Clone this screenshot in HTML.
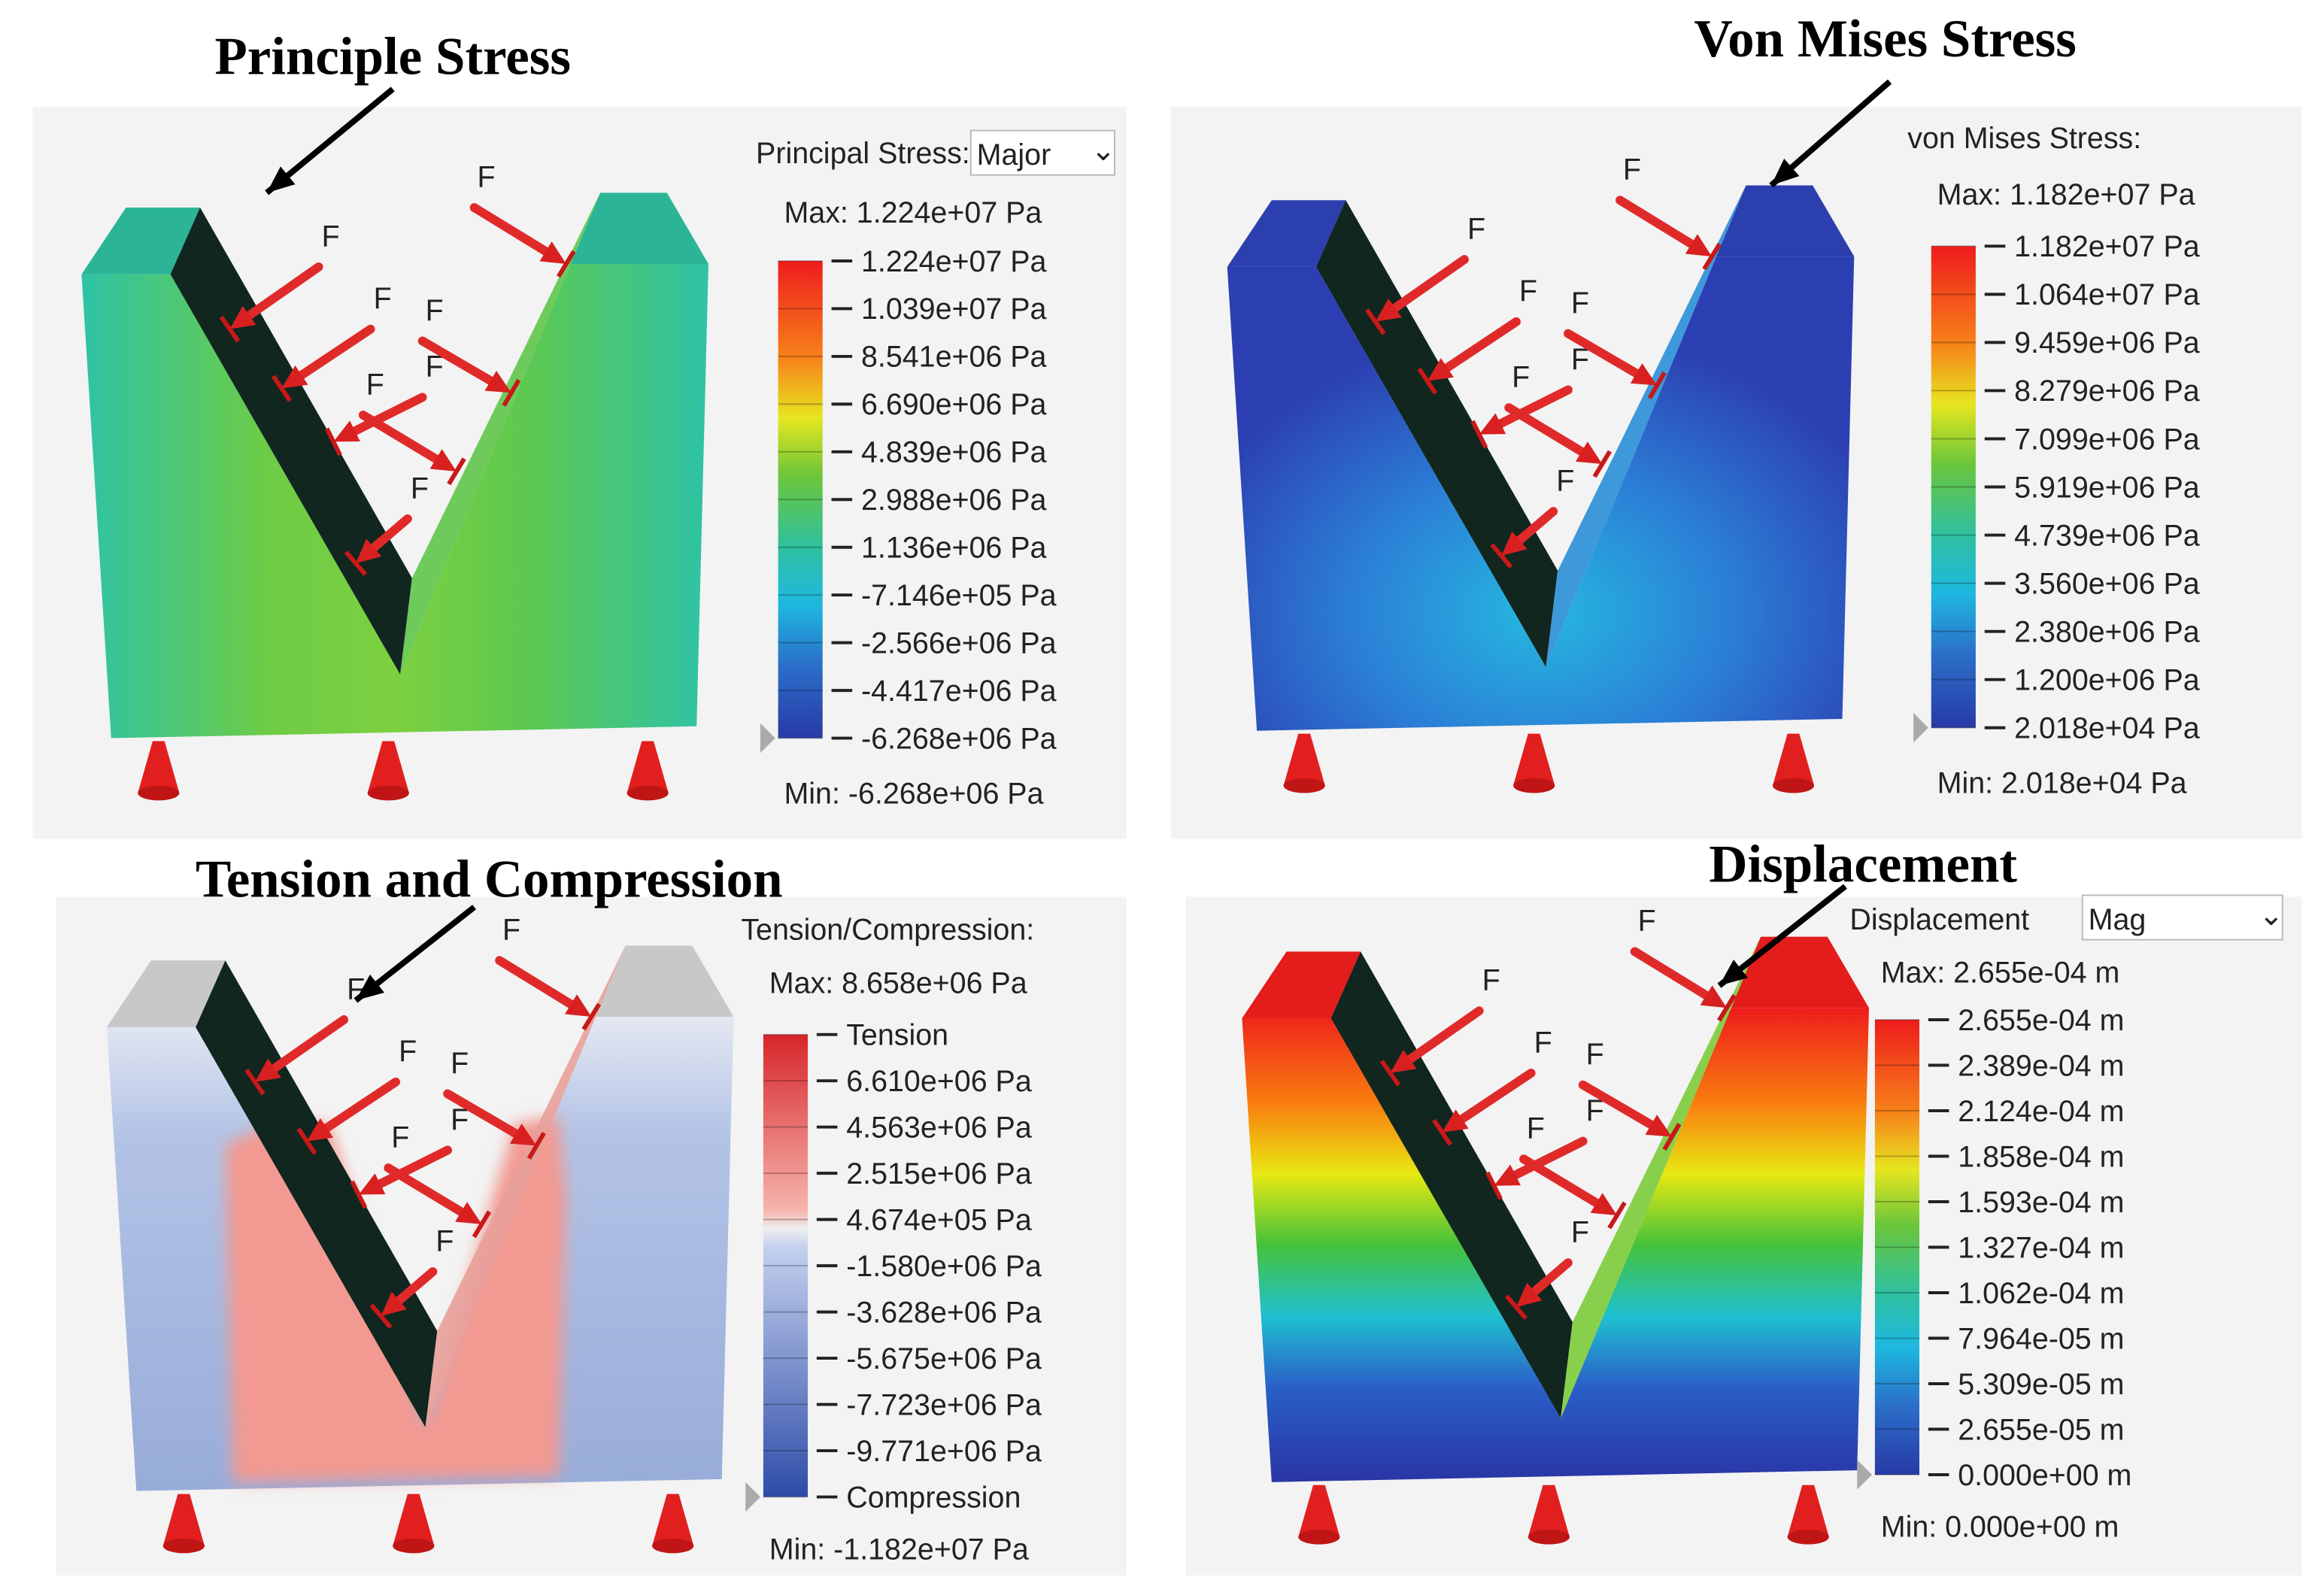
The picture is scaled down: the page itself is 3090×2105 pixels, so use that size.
<!DOCTYPE html>
<html><head><meta charset="utf-8"><style>
html,body{margin:0;padding:0;background:#fff;}
svg{display:block;}
.t{font-family:"Liberation Serif",serif;font-weight:bold;font-size:36px;fill:#000;}
.l{font-family:"Liberation Sans",sans-serif;font-size:20px;fill:#222;}
</style></head><body>
<svg id="fig" width="3090" height="2105" viewBox="0 0 1568 1068" xmlns="http://www.w3.org/2000/svg">
<defs>
<linearGradient id="g1" x1="0" x2="1" y1="0" y2="0"><stop offset="0" stop-color="#2ec3a6"/><stop offset="0.3" stop-color="#6dcc45"/><stop offset="0.5" stop-color="#7dd040"/><stop offset="0.7" stop-color="#5ec94e"/><stop offset="1" stop-color="#2ec3a6"/></linearGradient>
<radialGradient id="g2" cx="0.5" cy="0.75" r="0.6"><stop offset="0" stop-color="#25b8e0"/><stop offset="0.5" stop-color="#2b7fd6"/><stop offset="1" stop-color="#2c3fb2"/></radialGradient>
<linearGradient id="g3" x1="0" x2="0" y1="0" y2="1"><stop offset="0" stop-color="#e4e8f2"/><stop offset="0.25" stop-color="#b3c3e6"/><stop offset="1" stop-color="#98acd9"/></linearGradient>
<linearGradient id="g4" x1="0" x2="0" y1="0" y2="1"><stop offset="0" stop-color="#ee1c1c"/><stop offset="0.2" stop-color="#f97d0f"/><stop offset="0.35" stop-color="#e8e812"/><stop offset="0.5" stop-color="#45c23a"/><stop offset="0.65" stop-color="#1fc0d0"/><stop offset="0.8" stop-color="#2a5fc8"/><stop offset="1" stop-color="#2a35a5"/></linearGradient>
<linearGradient id="cb1" x1="0" x2="0" y1="0" y2="1"><stop offset="0" stop-color="#ee1c1c"/><stop offset="0.2" stop-color="#f7801a"/><stop offset="0.33" stop-color="#e6e620"/><stop offset="0.45" stop-color="#6cc63a"/><stop offset="0.6" stop-color="#2fc0a0"/><stop offset="0.72" stop-color="#1eb8e0"/><stop offset="0.85" stop-color="#2b6ec8"/><stop offset="1" stop-color="#283aa5"/></linearGradient>
<linearGradient id="cb3" x1="0" x2="0" y1="0" y2="1"><stop offset="0" stop-color="#d7262a"/><stop offset="0.38" stop-color="#f7b3ad"/><stop offset="0.42" stop-color="#eeeeee"/><stop offset="0.46" stop-color="#c4d0ee"/><stop offset="1" stop-color="#2e4ca8"/></linearGradient>
<filter id="blur"><feGaussianBlur stdDeviation="5"/></filter>
</defs>
<rect width="1568" height="1068" fill="#fff"/>
<g id="layer"></g>
</svg>
<script>
const psLabels=["1.224e+07 Pa","1.039e+07 Pa","8.541e+06 Pa","6.690e+06 Pa","4.839e+06 Pa","2.988e+06 Pa","1.136e+06 Pa","-7.146e+05 Pa","-2.566e+06 Pa","-4.417e+06 Pa","-6.268e+06 Pa"];
const vmLabels=["1.182e+07 Pa","1.064e+07 Pa","9.459e+06 Pa","8.279e+06 Pa","7.099e+06 Pa","5.919e+06 Pa","4.739e+06 Pa","3.560e+06 Pa","2.380e+06 Pa","1.200e+06 Pa","2.018e+04 Pa"];
const tcLabels=["Tension","6.610e+06 Pa","4.563e+06 Pa","2.515e+06 Pa","4.674e+05 Pa","-1.580e+06 Pa","-3.628e+06 Pa","-5.675e+06 Pa","-7.723e+06 Pa","-9.771e+06 Pa","Compression"];
const dpLabels=["2.655e-04 m","2.389e-04 m","2.124e-04 m","1.858e-04 m","1.593e-04 m","1.327e-04 m","1.062e-04 m","7.964e-05 m","5.309e-05 m","2.655e-05 m","0.000e+00 m"];
const NS="http://www.w3.org/2000/svg";
const L=document.getElementById('layer');
function mk(tag,at,txt){const e=document.createElementNS(NS,tag);for(const k in at)e.setAttribute(k,at[k]);if(txt!==undefined)e.textContent=txt;L.appendChild(e);return e;}
function pts(a,dx,dy){return a.map(p=>(p[0]+dx)+","+(p[1]+dy)).join(" ");}
function panel(o){
 const dx=o.dx,dy=o.dy;
 let e=mk('rect',{x:o.bg[0],y:o.bg[1],width:o.bg[2],height:o.bg[3],fill:'#f3f3f3'});
 
 e=mk('polygon',{points:pts([[55,185],[115,185],[270,455],[385,178],[478,178],[470,490],[75,498]],dx,dy),fill:o.front});
 
 if(o.pink){
  e=mk('polygon',{points:pts([[135,265],[165,250],[205,250],[270,455],[330,250],[360,245],[365,300],[360,488],[140,492]],dx,dy),fill:'#f29a92',filter:'url(#blur)'});
  
 }
 e=mk('polygon',{points:pts([[55,185],[85,140],[135,140],[115,185]],dx,dy),fill:o.top});
 
 e=mk('polygon',{points:pts([[385,178],[405,130],[450,130],[478,178]],dx,dy),fill:o.top});
 
 e=mk('polygon',{points:pts([[115,185],[135,140],[278,390],[270,455]],dx,dy),fill:'#10261f'});
 
 e=mk('polygon',{points:pts([[270,455],[278,390],[405,130],[385,178]],dx,dy),fill:o.inner,opacity:0.9});
 
 [107,262,437].forEach((x,i)=>{
  e=mk('polygon',{points:pts([[x-4,500],[x+4,500],[x+14,535],[x-14,535]],dx,dy),fill:'#e21f1f'});
  
  mk('ellipse',{cx:x+dx,cy:535+dy,rx:14,ry:5,fill:'#c01515'});
 });
 [[215,180,155,222],[250,222,190,262],[285,268,225,298],[275,350,240,380],[320,140,382,178],[285,230,345,265],[245,280,308,318]].forEach((f,i)=>{
  const x1=f[0]+dx,y1=f[1]+dy,x2=f[2]+dx,y2=f[3]+dy,a=Math.atan2(y2-y1,x2-x1);
  e=mk('line',{x1:x1,y1:y1,x2:x2-12*Math.cos(a),y2:y2-12*Math.sin(a),stroke:'#e02a2a','stroke-width':6,'stroke-linecap':'round'});
  
  mk('polygon',{points:[[x2,y2],[x2-18*Math.cos(a-0.45),y2-18*Math.sin(a-0.45)],[x2-18*Math.cos(a+0.45),y2-18*Math.sin(a+0.45)]].map(p=>p.join(',')).join(' '),fill:'#d82020'});
  mk('line',{x1:x2-10*Math.sin(a),y1:y2+10*Math.cos(a),x2:x2+10*Math.sin(a),y2:y2-10*Math.cos(a),stroke:'#c81818','stroke-width':3});
  mk('text',{x:x1+2,y:y1-14,class:'l','font-size':20,fill:'#555'},'F');
 });
 e=mk('text',{x:o.tx,y:o.ty,class:'t','text-anchor':'middle'},o.title);
 
 e=mk('line',{x1:o.arr[0],y1:o.arr[1],x2:o.arr[2],y2:o.arr[3],stroke:'#000','stroke-width':4});
 
 const ang=Math.atan2(o.arr[3]-o.arr[1],o.arr[2]-o.arr[0]);const hx=o.arr[2],hy=o.arr[3];
 mk('polygon',{points:[[hx,hy],[hx-20*Math.cos(ang-0.4),hy-20*Math.sin(ang-0.4)],[hx-20*Math.cos(ang+0.4),hy-20*Math.sin(ang+0.4)]].map(p=>p.join(',')).join(' '),fill:'#000'});
 e=mk('text',{x:o.hx,y:o.hy,class:'l'},o.header);
 
 if(o.dd){e=mk('rect',{x:o.dd[0],y:o.dd[1],width:o.dd[2],height:30,fill:'#fff',stroke:'#bbb'});
  
  mk('text',{x:o.dd[0]+4,y:o.dd[1]+23,class:'l'},o.ddText);
  mk('text',{x:o.dd[0]+o.dd[2]-16,y:o.dd[1]+20,class:'l','font-size':12,fill:'#666'},'⌄');}
 e=mk('text',{x:o.cx+4,y:o.maxy,class:'l'},'Max:  '+o.labels[0].replace('Tension',o.max));
 
 e=mk('text',{x:o.cx+4,y:o.miny,class:'l'},'Min:  '+(o.min||o.labels[o.labels.length-1]));
 
 e=mk('rect',{x:o.cx,y:o.cb[0],width:30,height:o.cb[1]-o.cb[0],fill:o.cbfill});
 
 const n=o.labels.length,step=(o.cb[1]-o.cb[0])/(n-1);
 o.labels.forEach((s,i)=>{const y=o.cb[0]+i*step;
  mk('line',{x1:o.cx,x2:o.cx+30,y1:y,y2:y,stroke:'rgba(0,0,0,0.25)'});
  mk('line',{x1:o.cx+36,x2:o.cx+50,y1:y,y2:y,stroke:'#222','stroke-width':2});
  e=mk('text',{x:o.cx+56,y:y+7,class:'l'},s);
  
 });
 mk('polygon',{points:[[o.cx-12,o.cb[1]-10],[o.cx-2,o.cb[1]],[o.cx-12,o.cb[1]+10]].map(p=>p.join(',')).join(' '),fill:'#aaa'});
}
panel({key:'principal',dx:0,dy:0,bg:[22,72,738,494],front:'url(#g1)',top:'#2bb596',inner:'#5fc64a',title:'Principle Stress',tx:265,ty:50,arr:[265,60,180,130],header:'Principal Stress:',hx:510,hy:110,dd:[655,88,97],ddText:'Major',cx:525,cb:[176,498],labels:psLabels,maxy:150,miny:542,cbfill:'url(#cb1)'});
panel({key:'vonmises',dx:773,dy:-5,bg:[790,72,763,494],front:'url(#g2)',top:'#2c3fae',inner:'#2a8fd8',title:'Von Mises Stress',tx:1272,ty:38,arr:[1275,55,1195,125],header:'von Mises Stress:',hx:1287,hy:100,dd:null,cx:1303,cb:[166,491],labels:vmLabels,maxy:138,miny:535,cbfill:'url(#cb1)'});
panel({key:'tension',dx:17,dy:508,bg:[38,605,722,458],front:'url(#g3)',pink:true,top:'#c8c8c8',inner:'#e8a09a',title:'Tension and Compression',tx:330,ty:605,arr:[320,612,240,675],header:'Tension/Compression:',hx:500,hy:634,dd:null,cx:515,cb:[698,1010],labels:tcLabels,max:'8.658e+06 Pa',min:'-1.182e+07 Pa',maxy:670,miny:1052,cbfill:'url(#cb3)'});
panel({key:'displacement',dx:783,dy:502,bg:[800,605,753,458],front:'url(#g4)',top:'#e41c1c',inner:'#7ccc3a',title:'Displacement',tx:1257,ty:595,arr:[1245,598,1160,665],header:'Displacement',hx:1248,hy:627,dd:[1405,604,135],ddText:'Mag',cx:1265,cb:[688,995],labels:dpLabels,maxy:663,miny:1037,cbfill:'url(#cb1)'});
</script>
</body></html>
